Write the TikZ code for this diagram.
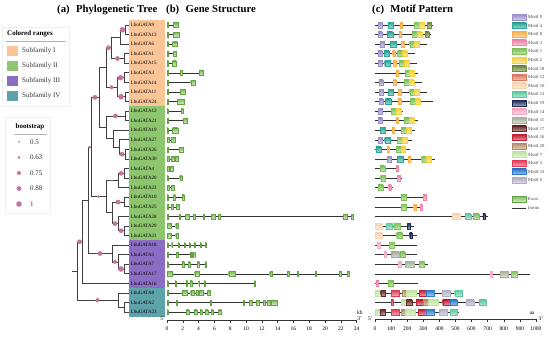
\documentclass[tikz,border=0pt]{standalone}
\usepackage{fontspec}
\setmainfont{Liberation Serif}
\usetikzlibrary{calc}
\definecolor{subI}{HTML}{FAC597}
\definecolor{subII}{HTML}{8DC66E}
\definecolor{subIII}{HTML}{8B6DC3}
\definecolor{subIV}{HTML}{5EA2AA}
\definecolor{bsdot}{HTML}{C4739F}
\definecolor{exon}{HTML}{78BE55}
\definecolor{m9}{HTML}{9B8EC9}
\definecolor{m4}{HTML}{2EA597}
\definecolor{m8}{HTML}{F6AE4A}
\definecolor{m3}{HTML}{EE86A6}
\definecolor{m1}{HTML}{7DC25A}
\definecolor{m2}{HTML}{F4D03A}
\definecolor{m18}{HTML}{6E8A3C}
\definecolor{m12}{HTML}{D9785E}
\definecolor{m10}{HTML}{FAD2B4}
\definecolor{m13}{HTML}{5FC8A0}
\definecolor{m19}{HTML}{1F2B55}
\definecolor{m14}{HTML}{F4A9C3}
\definecolor{m11}{HTML}{A9B09A}
\definecolor{m17}{HTML}{6B2A2A}
\definecolor{m16}{HTML}{C41E35}
\definecolor{m20}{HTML}{B38B67}
\definecolor{m7}{HTML}{BFE3A0}
\definecolor{m5}{HTML}{E23A55}
\definecolor{m15}{HTML}{2F7BCB}
\definecolor{m6}{HTML}{B3AEC6}
\begin{document}
\begin{tikzpicture}[x=1pt,y=-1pt,font=\fontsize{5}{6}\selectfont,
  br/.style={draw=black!75,line width=.7pt},
  bs/.style={fill=bsdot},
  gl/.style={anchor=west,inner sep=0pt,font=\fontsize{5}{6}\selectfont},
  ttl/.style={anchor=west,inner sep=0pt,font=\bfseries\fontsize{10.7}{12}\selectfont},
  lg/.style={anchor=west,inner sep=0pt,font=\fontsize{7}{8}\selectfont,text=black!80},
  tk/.style={inner sep=0pt,font=\fontsize{5.5}{6}\selectfont},
  axl/.style={draw=black!80,line width=.5pt},
  intron/.style={draw=black!80,line width=.6pt},
  exonbox/.style={top color=exon,bottom color=exon!35,draw=exon!85!black,line width=.2pt},
  motif/.style={top color=#1,bottom color=#1!45,draw=#1,line width=.2pt}]
\useasboundingbox (0,0) rectangle (550,337);
% titles
\node[ttl] (ta) at (57,10) {(a)\hspace{.6em}Phylogenetic Tree};
\node[ttl] (tb) at (166,10) {(b)\hspace{.6em}Gene Structure};
\node[ttl] (tc) at (372,10) {(c)\hspace{.6em}Motif Pattern};
% legends
\draw[black!6] (2,27) rectangle (69,106);
\node[lg,font=\bfseries\fontsize{7}{8}\selectfont,text=black] (cr) at (7,34) {Colored ranges};
\draw[black!30,line width=.4pt] (6,41) -- (66,41);
\foreach \k/\cl/\t in {1/subI/Subfamily I,2/subII/Subfamily II,3/subIII/Subfamily III,4/subIV/Subfamily IV}{\fill[fill=\cl] (7,{31+15*\k}) rectangle (18,{41+15*\k});\node[lg] (sf\k) at (22,{36+15*\k}) {\t};}
\draw[black!6] (5,117) rectangle (50,213);
\node[lg,anchor=center,font=\bfseries\fontsize{7}{8}\selectfont,text=black] (bt) at (30,127) {bootstrap};
\draw[black!30,line width=.4pt] (14,134) -- (47,134);
\foreach \k/\v/\r in {0/0.5/1.0,1/0.63/1.5,2/0.75/2.0,3/0.88/2.4,4/1/2.8}{\fill[bs] (19,{142+15.5*\k}) circle (\r);\node[lg] (bv\k) at (30,{142+15.5*\k}) {\v};}
% tree
\foreach \cl/\a/\b in {subI/1/9,subII/10/23,subIII/24/28,subIV/29/31}{\fill[fill=\cl] (129,{25+9.57*(\a-1)-4.785}) rectangle (165,{25+9.57*(\b-1)+4.785});}
\foreach \i in {1,...,31}{\coordinate (r\i) at (129,{25+9.57*(\i-1)});}
\foreach \i/\g in {1/9,2/13,3/6,4/1,5/15,6/3,7/14,8/11,9/24,10/12,11/21,12/19,13/27,14/26,15/30,16/4,17/20,18/22,19/10,20/25,21/28,22/29,23/31,24/18,25/5,26/7,27/17,28/16,29/8,30/2,31/23}{\node[gl] (lbl\g) at (130.5,{25+9.57*(\i-1)}) {LbuGATA\g};}
\coordinate (a1) at (125,29.79);
\coordinate (a2) at (120,36.96);
\coordinate (a3) at (124,58.50);
\coordinate (a4) at (111,47.73);
\coordinate (a5) at (124,77.64);
\coordinate (a6) at (125,96.78);
\coordinate (a7) at (117,87.21);
\coordinate (a8) at (106,67.47);
\coordinate (b1) at (125,115.92);
\coordinate (b2) at (125,154.20);
\coordinate (b3) at (119,147.02);
\coordinate (b4) at (113,138.64);
\coordinate (b5) at (106,127.28);
\coordinate (a9) at (99,97.38);
\coordinate (b6) at (124,173.34);
\coordinate (b7) at (118,180.51);
\coordinate (b8) at (124,202.05);
\coordinate (b9) at (124,230.76);
\coordinate (b10) at (118,223.58);
\coordinate (b11) at (112,212.81);
\coordinate (b12) at (106,196.66);
\coordinate (a10) at (91,147.02);
\coordinate (c1) at (124,269.03);
\coordinate (c2) at (118,261.86);
\coordinate (c3) at (112,253.48);
\coordinate (a11) at (88,200.25);
\coordinate (a12) at (82,241.82);
\coordinate (d1) at (124,307.31);
\coordinate (d2) at (118,300.14);
\coordinate (rt) at (77,270.98);
\coordinate (stub) at (72,270.98);
\foreach \pa/\ch in {a1/r1,a1/r2,a2/a1,a2/r3,a3/r4,a3/r5,a4/a2,a4/a3,a5/r6,a5/r7,a6/r8,a6/r9,a7/a5,a7/a6,a8/a4,a8/a7,
  b1/r10,b1/r11,b2/r14,b2/r15,b3/r13,b3/b2,b4/r12,b4/b3,b5/b1,b5/b4,a9/a8,a9/b5,
  b6/r16,b6/r17,b7/b6,b7/r18,b8/r19,b8/r20,b9/r22,b9/r23,b10/r21,b10/b9,b11/b8,b11/b10,b12/b7,b12/b11,a10/a9,a10/b12,
  c1/r26,c1/r27,c2/r25,c2/c1,c3/r24,c3/c2,a11/a10,a11/c3,a12/a11,a12/r28,d1/r30,d1/r31,d2/r29,d2/d1,rt/a12,rt/d2}{\draw[br] (\pa) |- (\ch);}
\draw[br] (stub) -- (rt);
\foreach \pa/\ch/\r in {a2/a1/2.8,a8/a4/2.4,a4/a3/2.4,a7/a5/2.8,a7/a6/2.8,a8/a7/2.0,a10/a9/2.4,b5/b1/2.4,b3/b2/2.4,a11/a10/1.5,
  b7/b6/2.4,b12/b7/1.0,a10/b12/1.5,b11/b8/2.4,b11/b10/2.4,b10/b9/2.4,rt/a12/2.4,a11/c3/2.4,c3/c2/2.0,c2/c1/2.8,rt/d2/2.0}{\fill[bs] ($(\pa |- \ch)!.5!(\ch)$) circle (\r);}
% gene structure
\begin{scope}[shift={(167,0)},x=7.9pt]
\foreach \i/\len/\ex in {1/1.4/{0/0.2,0.8/1.4},2/1.5/{0/0.2,0.8/1.5},3/1.3/{0/0.2,0.7/1.3},4/1.2/{0/0.2,0.8/1.2},5/1.2/{0/0.2,0.7/1.2},
  6/4.6/{0/0.1,1.7/1.9,4.1/4.6},7/3.6/{0/0.1,3.0/3.6},8/2.3/{0/0.1,1.7/2.3},9/2.2/{0/0.1,1.3/2.2},10/2.1/{0/0.1,1.8/2.1},
  11/2.5/{0/0.1,2.0/2.5},12/1.35/{0/0.1,0.7/1.35},13/1.0/{0/0.25,0.5/1.0},14/2.0/{0/0.1,1.5/2.0},15/1.35/{0/0.3,0.5/0.85,1.0/1.35},
  16/0.75/{0/0.3,0.4/0.75},17/1.9/{0/0.15,1.6/1.9},18/0.85/{0/0.25,0.5/0.85},19/2.2/{0/0.15,0.8/1.0,1.9/2.2},20/1.5/{0/0.2,0.5/0.75,1.2/1.5},
  21/23.6/{0/0.2,1.5/1.6,2.3/2.8,3.3/3.6,4.6/4.7,5.6/6.1,6.5/6.7,22.3/22.8,23.3/23.6},22/1.4/{0/0.5,1.1/1.4},23/1.4/{0/0.5,1.1/1.4},
  24/5.0/{0/0.1,0.6/0.7,1.4/1.5,2.2/2.3,2.8/2.9,3.4/3.6,4.2/4.3,4.8/5.0},25/3.6/{0/0.2,1.2/1.4,2.9/3.0,3.2/3.3,3.5/3.6},
  26/4.95/{0/0.1,1.9/2.2,2.7/2.9,3.8/4.1,4.8/4.95},27/23.0/{0/0.6,3.5/4.0,7.8/8.6,13.0/13.3,15.2/15.4,16.5/16.6,18.8/18.9,21.8/22.0,22.8/23.0},
  28/11.2/{0/0.1,1.0/1.1,2.4/2.6,2.9/3.2,4.0/4.1,4.7/4.8,11.05/11.2},29/5.4/{0/0.1,1.9/2.6,3.0/3.4,3.7/3.9,4.1/4.6,5.1/5.4},
  30/13.9/{0/0.1,1.2/1.3,5.5/5.6,9.6/9.8,10.4/10.8,11.3/11.7,12.2/12.4,12.7/13.0,13.2/13.9},31/6.9/{0/0.1,2.4/2.8,3.4/3.8,4.2/4.4,4.8/5.2,5.6/5.8,6.5/6.9}}{
  \pgfmathsetmacro\yy{25+9.57*(\i-1)}
  \draw[intron] (0,\yy) -- (\len,\yy);
  \foreach \s/\e in \ex {\path[exonbox] (\s,{\yy-2.4}) rectangle (\e,{\yy+2.4});}}
\draw[axl] (0,320) -- (24,320);
\foreach \t in {0,2,...,24}{\draw[axl] (\t,320) -- (\t,322.5);\node[tk] (kb\t) at (\t,329) {\t};}
\node[tk] (kbu) at (24.4,313) {kb};
\node[tk] (kbr) at (24.4,319) {3'};
\node[tk] (kbl) at (-0.55,319) {5'};
\end{scope}
% motif pattern
\begin{scope}[shift={(375,0)},x=.161pt]
\foreach \i/\len/\ms in {1/360/{9/20/45,4/80/115,8/155/170,1/245/275,2/275/305,18/325/350},2/345/{9/20/45,4/75/110,8/150/165,1/230/260,2/260/290,18/310/335},
  3/320/{9/30/55,4/95/130,8/165/180,1/215/245,2/245/275},4/250/{9/20/45,4/55/90,8/110/125,1/140/170,2/170/200},
  5/260/{9/20/45,4/60/95,8/115/130,1/150/180,2/180/210},6/270/{8/130/145,1/185/215,2/215/245},7/290/{9/25/50,8/115/130,1/180/210,2/210/240},
  8/320/{9/25/50,4/80/115,8/145/160,1/215/245,2/245/275},9/360/{9/25/50,4/65/100,8/145/160,1/220/250,2/250/280},
  10/175/{9/20/45,1/100/130,2/130/160},11/270/{9/20/45,8/130/145,1/180/210,2/210/240},12/250/{4/30/65,8/105/120,1/165/195,2/195/225},
  13/230/{9/20/45,4/60/95,1/140/170,2/170/200},14/220/{4/5/40,8/75/90,1/130/160,2/160/190},15/375/{9/75/100,4/140/175,8/205/220,1/290/320,2/320/350},
  16/150/{1/30/60,3/130/145},17/165/{1/35/65,3/140/155},18/110/{1/20/50,3/85/100},19/320/{1/160/195,3/300/315},20/300/{1/165/195,8/240/255,3/280/295},
  21/700/{10/480/530,13/560/595,1/610/645,19/670/685},22/240/{10/0/45,13/70/105,1/120/155,19/200/215},23/260/{10/0/45,1/135/170,19/215/230},
  24/260/{14/15/30,1/90/120},25/260/{14/55/70,11/100/150,1/155/185},26/330/{14/145/160,11/190/240,1/275/305},27/960/{14/715/730,11/775/825,1/845/880},
  28/270/{3/5/20,1/80/110},29/545/{7/0/35,17/35/65,5/100/150,20/170/195,7/195/255,16/275/320,15/320/370,6/415/465,13/495/540},
  30/690/{5/100/115,7/165/195,17/195/230,16/255/300,20/300/330,7/330/390,16/420/465,15/465/510,6/565/615,13/645/690},
  31/520/{7/0/30,17/30/60,5/100/150,20/165/190,7/190/250,16/270/315,15/315/365,6/400/450,13/465/510}}{
  \pgfmathsetmacro\yy{25+9.57*(\i-1)}
  \draw[intron] (0,\yy) -- (\len,\yy);
  \foreach \k/\s/\e in \ms {\path[motif=m\k] (\s,{\yy-2.8}) rectangle (\e,{\yy+2.8});}}
\draw[axl] (0,319) -- (1000,319);
\foreach \t in {0,100,...,1000}{\draw[axl] (\t,319) -- (\t,321.5);\node[tk] (aa\t) at (\t,329) {\t};}
\node[tk] (aau) at (975,313) {aa};
\node[tk] (aar) at (1030,318.5) {3'};
\node[tk] (aal) at (-28,318.5) {5'};
\end{scope}
\foreach \k/\m in {1/9,2/4,3/8,4/3,5/1,6/2,7/18,8/12,9/10,10/13,11/19,12/14,13/11,14/17,15/16,16/20,17/7,18/5,19/15,20/6}{\path[motif=m\m] (512,{14.2+8.6*(\k-1)}) rectangle (526,{19.8+8.6*(\k-1)});\node[gl,font=\fontsize{4.6}{5}\selectfont,text=black!75] (ml\m) at (528,{17+8.6*(\k-1)}) {Motif \m};}
\path[exonbox] (512,196.2) rectangle (526,201.8);
\node[gl,font=\fontsize{4.6}{5}\selectfont,text=black!75] (lex) at (528,199) {Exon};
\draw[intron] (512,208) -- (526,208);
\node[gl,font=\fontsize{4.6}{5}\selectfont,text=black!75] (lin) at (528,208) {Intron};
\end{tikzpicture}
\end{document}
